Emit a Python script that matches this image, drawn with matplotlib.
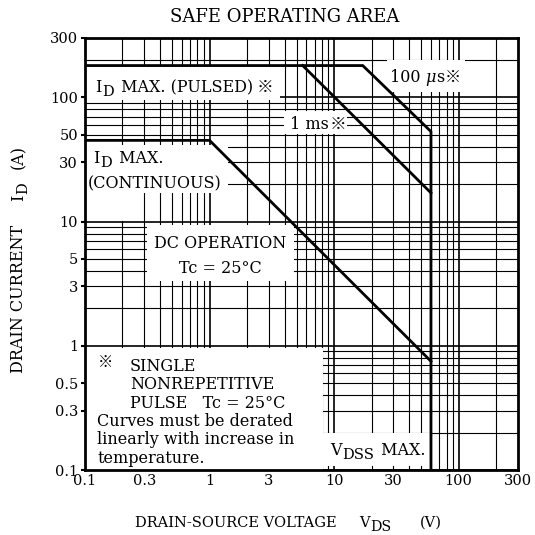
import numpy as np
import matplotlib
matplotlib.use("Agg")
import matplotlib.pyplot as plt
from matplotlib.patches import Rectangle
from matplotlib.ticker import FixedLocator, NullLocator

plt.rcParams["font.family"] = ["DejaVu Serif", "Noto Sans CJK JP"]

# ---- data -------------------------------------------------------------
x_ticks = [0.1, 0.3, 1, 3, 10, 30, 100, 300]
x_tick_labels = ["0.1", "0.3", "1", "3", "10", "30", "100", "300"]
y_ticks = [0.1, 0.3, 0.5, 1, 3, 5, 10, 30, 50, 100, 300]
y_tick_labels = ["0.1", "0.3", "0.5", "1", "3", "5", "10", "30", "50", "100", "300"]

# 100 us pulse limit incl. ID(pulsed) max and the VDSS max edge
pulse_100us_v = [0.1, 17, 60, 60]
pulse_100us_i = [180, 180, 53, 0.1]
# 1 ms pulse limit
pulse_1ms_v = [5.6, 60]
pulse_1ms_i = [180, 17]
# DC operation limit incl. ID(continuous) max
dc_v = [0.1, 1.0, 60]
dc_i = [45, 45, 0.75]

# ---- figure -----------------------------------------------------------
W = 535
fig = plt.figure(figsize=(W / 100, W / 100), dpi=100)
ax = fig.add_axes([85 / W, 65 / W, 433 / W, 432 / W])
ax.set_xscale("log")
ax.set_yscale("log")
ax.set_xlim(0.1, 300)
ax.set_ylim(0.1, 300)

# log grid (1..9 per decade)
for d in [0.1, 1, 10, 100]:
    for m in range(1, 10):
        v = m * d
        if v <= 300 + 1e-9:
            w = 1.2 if m == 1 else 0.8
            ax.axvline(v, color="black", lw=w, zorder=0.5)
            ax.axhline(v, color="black", lw=w, zorder=0.5)

ax.xaxis.set_major_locator(FixedLocator(x_ticks))
ax.xaxis.set_minor_locator(NullLocator())
ax.set_xticklabels(x_tick_labels)
ax.yaxis.set_major_locator(FixedLocator(y_ticks))
ax.yaxis.set_minor_locator(NullLocator())
ax.set_yticklabels(y_tick_labels)
ax.tick_params(axis="x", length=0, pad=3, labelsize=10.5)
ax.tick_params(axis="y", direction="out", length=3, width=1.5, pad=2, labelsize=10.5)

for s in ax.spines.values():
    s.set_linewidth(2.0)
    s.set_zorder(6)

# white label panels (axes fractions)
panels = [
    (0.000, 0.856, 0.450, 0.077),   # ID max pulsed
    (0.460, 0.777, 0.145, 0.054),   # 1 ms
    (0.697, 0.875, 0.181, 0.074),   # 100 us
    (0.000, 0.641, 0.330, 0.111),   # ID max continuous
    (0.000, 0.576, 0.127, 0.065),
    (0.143, 0.4375, 0.340, 0.130),  # DC operation
    (0.000, 0.000, 0.550, 0.282),   # note
    (0.550, 0.009, 0.247, 0.077),   # VDSS max
]
for (x0, y0, w, h) in panels:
    ax.add_patch(Rectangle((x0, y0), w, h, transform=ax.transAxes,
                           facecolor="white", edgecolor="none", zorder=1))

# limit curves
lw = 2.0
ax.plot(pulse_100us_v, pulse_100us_i, color="black", lw=lw, zorder=3,
        solid_joinstyle="miter")
ax.plot(pulse_1ms_v, pulse_1ms_i, color="black", lw=lw, zorder=3)
ax.plot(dc_v, dc_i, color="black", lw=lw, zorder=3, solid_joinstyle="miter")

FS = 11.5
SUB = (0.92, -3.0)   # subscript scale, baseline shift (pt)


def rich(x, y, parts, size=FS, coords=None, rotation=0):
    """Draw a run of text pieces along one baseline.

    parts: list of (text, scale, dy_pt, gap_pt, extra_kwargs)."""
    coords = ax.transAxes if coords is None else coords
    prev = None
    for part in parts:
        s, sc, dy, gap, kw = (list(part) + [1.0, 0.0, 0.0, {}][len(part) - 1:])[:5]
        off = (gap, dy) if rotation == 0 else (-dy, gap)
        if prev is None:
            xy, xyc = (x, y), coords
        elif rotation == 0:
            xy, xyc = (1, y), (prev, coords)
        else:
            xy, xyc = (x, 1), (coords, prev)
        prev = ax.annotate(s, xy=xy, xycoords=xyc, xytext=off,
                           textcoords="offset points", ha="left", va="baseline",
                           fontsize=size * sc, rotation=rotation,
                           rotation_mode="anchor", zorder=5,
                           annotation_clip=False, **kw)
    return prev


def sub(s, gap=0.5):
    return (s, SUB[0], SUB[1], gap)


rich(0.023, 0.875, [("I",), sub("D"), (" MAX. (PULSED)", 1.0, 0.0, 1.5),
                    ("※", 1.05, 0.0, 2.5)])
rich(0.473, 0.789, [("1 ms",), ("※", 1.05, 0.0, 1.0)])
rich(0.704, 0.898, [("100 ",), ("μ", 1.0, 0.0, 0.0, {"style": "italic"}),
                    ("s",), ("※", 1.0, 0.0, 0.5)])
rich(0.018, 0.711, [("I",), sub("D"), (" MAX.", 1.0, 0.0, 1.5)])
rich(0.007, 0.653, [("(CONTINUOUS)",)])
ax.text(0.312, 0.514, "DC OPERATION", transform=ax.transAxes, ha="center",
        va="baseline", fontsize=FS, zorder=5)
ax.text(0.312, 0.456, "Tc = 25°C", transform=ax.transAxes, ha="center",
        va="baseline", fontsize=FS, zorder=5)

# note panel
ax.text(0.030, 0.248, "※", transform=ax.transAxes, ha="left", va="center",
        fontsize=FS * 0.95, zorder=5)
note_lines = [
    (0.104, 0.229, "SINGLE"),
    (0.104, 0.1875, "NONREPETITIVE"),
    (0.104, 0.144, "PULSE   Tc = 25°C"),
    (0.028, 0.102, "Curves must be derated"),
    (0.028, 0.060, "linearly with increase in"),
    (0.028, 0.016, "temperature."),
]
for (nx, ny, s) in note_lines:
    ax.text(nx, ny, s, transform=ax.transAxes, ha="left", va="baseline",
            fontsize=FS, zorder=5)

rich(0.566, 0.035, [("V",), sub("DSS"), (" MAX.", 1.0, 0.0, 1.0)])

# titles
fig.text(285 / W, 1 - 17 / W, "SAFE OPERATING AREA", ha="center", va="center",
         fontsize=13)
rich(135 / W, 8 / W, [("DRAIN-SOURCE VOLTAGE",), ("V", 1.0, 0.0, 16.0),
                      ("DS", 0.97, -3.0, 0.8), ("(V)", 1.0, 0.0, 20.0)],
     size=10.5, coords=fig.transFigure)
rich(23 / W, 162 / W, [("DRAIN CURRENT",), ("I", 1.0, 0.0, 17.0), sub("D", 0.8),
                       ("(A)", 1.0, 0.0, 9.5)],
     size=11.5, coords=fig.transFigure, rotation=90)

fig.savefig("out.png", dpi=100)
